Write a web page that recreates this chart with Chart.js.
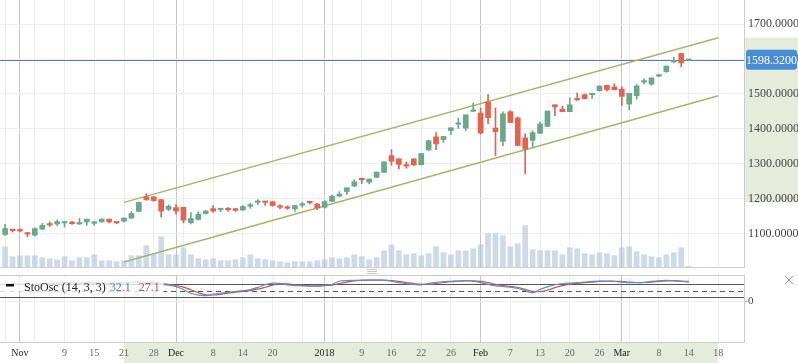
<!DOCTYPE html>
<html>
<head>
<meta charset="utf-8">
<script src="https://cdn.jsdelivr.net/npm/chart.js@4/dist/chart.umd.min.js"></script>
<style>
  html, body { margin: 0; padding: 0; background: #fff; }
  #marco { position: relative; width: 798px; height: 363px; overflow: hidden; }
  #precio { position: absolute; left: 0; top: 0; }
  #osc { position: absolute; left: 0; top: 275px; }
</style>
</head>
<body>
<div id="marco">
  <canvas id="precio" width="798" height="275"></canvas>
  <canvas id="osc" width="798" height="88"></canvas>
</div>
<script>
// sesiones (MM-DD), la primera vela va dos sesiones antes del 1 de nov
const fechas = ['10-30','10-31',
  '11-01','11-02','11-03','11-06','11-07','11-08','11-09','11-10','11-13','11-14','11-15','11-16','11-17','11-20','11-21','11-22','11-24','11-27','11-28','11-29','11-30',
  '12-01','12-04','12-05','12-06','12-07','12-08','12-11','12-12','12-13','12-14','12-15','12-18','12-19','12-20','12-21','12-22','12-26','12-27','12-28','12-29',
  '01-02','01-03','01-04','01-05','01-08','01-09','01-10','01-11','01-12','01-16','01-17','01-18','01-19','01-22','01-23','01-24','01-25','01-26','01-29','01-30','01-31',
  '02-01','02-02','02-05','02-06','02-07','02-08','02-09','02-12','02-13','02-14','02-15','02-16','02-20','02-21','02-22','02-23','02-26','02-27','02-28',
  '03-01','03-02','03-05','03-06','03-07','03-08','03-09','03-12','03-13','03-14'];
const primerIndice = -2;

const apertura = [1097,1111,1110,1101,1095,1112,1128,1127,1130,1131,
  1127,1133,1129,1133,1141,1133,1135,1144,1163,1205,
  1205,1197,1169,1174,1175,1131,1140,1157,1171,1168,
  1170,1171,1167,1178,1189,1192,1191,1179,1175,1171,
  1181,1191,1184,1175,1192,1207,1220,1236,1257,1247,
  1261,1275,1323,1314,1296,1314,1297,1340,1377,1369,
  1395,1413,1402,1450,1445,1477,1402,1364,1449,1431,
  1374,1367,1387,1407,1469,1456,1449,1485,1498,1498,
  1509,1525,1520,1514,1471,1495,1534,1528,1551,1564,
  1592,1616,1596];
const maximo = [1126,1112,1113,1103,1116,1129,1133,1139,1131,1135,
  1143,1141,1134,1142,1141,1134,1145,1163,1190,1214,
  1206,1197,1182,1183,1175,1160,1162,1166,1180,1171,
  1174,1172,1180,1187,1197,1192,1192,1183,1179,1180,
  1189,1191,1186,1194,1210,1220,1231,1254,1257,1256,
  1276,1306,1340,1314,1305,1314,1329,1366,1389,1378,
  1403,1431,1440,1474,1459,1498,1460,1449,1452,1434,
  1386,1394,1420,1451,1469,1465,1489,1503,1500,1500,
  1523,1525,1529,1521,1502,1527,1543,1546,1557,1580,
  1605,1616,1599];
const minimo = [1094,1104,1104,1090,1092,1111,1120,1122,1118,1126,
  1126,1124,1123,1132,1130,1128,1133,1143,1162,1195,
  1192,1147,1165,1155,1130,1127,1138,1155,1160,1162,
  1163,1163,1166,1172,1182,1180,1178,1170,1169,1163,
  1175,1184,1168,1172,1191,1206,1212,1234,1243,1242,
  1260,1274,1295,1285,1287,1294,1296,1337,1340,1361,
  1384,1401,1395,1450,1385,1414,1323,1352,1418,1352,
  1271,1347,1386,1406,1438,1449,1449,1481,1486,1487,
  1508,1508,1512,1467,1454,1485,1529,1525,1549,1562,
  1589,1578,1595];
const cierre = [1114,1108,1107,1098,1114,1123,1124,1134,1131,1128,
  1131,1141,1131,1141,1133,1130,1144,1157,1189,1197,
  1194,1164,1178,1164,1138,1143,1155,1164,1164,1170,
  1168,1166,1177,1181,1191,1189,1180,1175,1172,1180,
  1184,1188,1173,1191,1207,1213,1231,1248,1254,1256,
  1276,1305,1307,1298,1293,1297,1329,1366,1357,1378,
  1403,1417,1440,1453,1388,1432,1392,1443,1418,1352,
  1342,1389,1414,1451,1463,1449,1469,1483,1486,1500,
  1523,1512,1512,1493,1502,1523,1536,1546,1552,1580,
  1596,1589,1598.32];
const volumen = [20.3,10.3,11.3,11.3,11.3,9.3,8.3,7.3,10.3,6.3,
  9.3,9.3,12.3,6.3,6.3,5.3,6.3,11.3,11.3,21.3,
  13.3,30.3,12.3,12.3,19.3,12.3,8.3,7.3,8.3,6.3,
  6.3,7.3,9.3,12.3,8.3,7.3,6.3,5.3,4.3,5.3,
  5.3,5.3,6.3,7.3,9.3,8.3,9.3,12.3,10.3,7.3,
  9.3,16.3,22.3,16.3,12.3,13.3,11.3,13.3,20.3,14.3,
  12.3,16.3,16.3,18.3,22.3,33.3,33.3,31.3,20.3,23.3,
  41.3,17.3,16.3,16.3,16.3,12.3,19.3,18.3,13.3,12.3,
  14.3,13.3,11.3,19.3,20.3,15.3,12.3,10.3,9.3,12.3,
  14.3,19.3,0.7];

// estocastico (%K azul, %D rojo)
const stoK = [84,82,80,78,80,84,86,88,87,85,
  86,88,86,84,85,87,89,90,92,88,
  84,80,76,69,55,37,28,26,33,38,
  42,46,50,55,65,78,86,84,77,74,
  73,72,73,76,80,95,98,99,100,100,
  100,99,95,88,84,80,78,85,90,93,
  95,97,98,96,88,80,73,70,66,60,
  50,40,56,68,78,83,86,88,91,94,
  96,96,94,91,88,88,90,94,97,99,
  97,94,91];
const stoD = [82,83,82,80,79,80,83,86,87,87,
  86,86,87,86,85,85,87,89,90,90,
  88,84,80,75,67,54,40,30,29,32,
  38,42,46,50,57,66,76,83,82,78,
  75,73,72,74,76,84,91,97,99,100,
  100,100,98,94,89,84,81,81,84,89,
  93,95,97,97,94,88,80,74,70,65,
  56,46,45,52,64,74,81,85,88,91,
  94,95,95,94,91,89,89,91,94,97,
  98,96,94];
const leyendaOsc = ['StoOsc (14, 3, 3)', '32.1', '27.1'];
const nivelesOsc = [80, 50, 20];

// canal dibujado: [sesion, precio]
const canalSup = [[14, 1189], [94, 1661]];
const canalInf = [[14, 1018], [94, 1495]];

// ejes
const ticksPos = [-2, 0, 2, 6, 10, 14, 18, 21, 22, 26, 30, 34, 38, 41, 42, 46, 50, 54, 58, 62, 66, 70, 74, 78, 81, 82, 86, 90, 94];
const ticksTexto = ['', 'Nov', '', '9', '15', '21', '28', 'Dec', '', '8', '14', '20', '', '2018', '', '9', '16', '22', '26', 'Feb', '7', '13', '20', '26', 'Mar', '', '8', '14', '18'];
const ticksMes = [0, 21, 41, 62, 81];
const preciosY = [1100, 1200, 1300, 1400, 1500, 1600, 1700];

const fuente = "'Liberation Serif', 'Times New Roman', serif";
Chart.defaults.font.family = fuente;

const xs = cierre.map((_, i) => i + primerIndice);
const colorVela = cierre.map((c, i) => c >= apertura[i] ? '#67a98a' : '#e9604c');
const ultimo = cierre[cierre.length - 1];

const ejeX = (conTexto) => ({
  type: 'linear',
  offset: false,
  min: -2.69,
  max: 97.45,
  afterBuildTicks: s => { s.ticks = ticksPos.map(v => ({ value: v })); },
  afterFit: s => { s.height = conTexto ? 21 : 0; s.paddingLeft = 0; s.paddingRight = 0; },
  grid: {
    offset: false,
    color: c => (c.tick && ticksMes.includes(c.tick.value)) ? '#c6c6c6' : '#ededed',
    drawTicks: false
  },
  border: { color: '#cccccc' },
  ticks: {
    display: conTexto,
    autoSkip: false,
    maxRotation: 0,
    padding: 5,
    callback: (v, i) => ticksTexto[i],
    color: c => (c.tick && ticksMes.includes(c.tick.value)) ? '#222' : '#666',
    font: { size: 10 }
  }
});

const decoracionPrecio = {
  id: 'decoracionPrecio',
  beforeDraw(chart) {
    const { ctx, chartArea, scales: { y } } = chart;
    const arriba = y.getPixelForValue(canalSup[1][1]);
    const abajo = y.getPixelForValue(canalSup[0][1]);
    ctx.save();
    ctx.fillStyle = '#e6ecdc';
    ctx.fillRect(chartArea.right + 1, arriba, chart.width - chartArea.right - 1, abajo - arriba);
    ctx.restore();
  },
  beforeDatasetsDraw(chart) {
    const { ctx, chartArea, scales: { y } } = chart;
    const py = Math.round(y.getPixelForValue(ultimo)) + 0.5;
    ctx.save();
    ctx.strokeStyle = '#4f80bd';
    ctx.lineWidth = 1;
    ctx.beginPath();
    ctx.moveTo(chartArea.left, py);
    ctx.lineTo(chartArea.right, py);
    ctx.stroke();
    ctx.restore();
  },
  afterDraw(chart) {
    const { ctx, chartArea, scales: { y } } = chart;
    const py = y.getPixelForValue(ultimo);
    const x0 = chartArea.right + 2, x1 = chart.width - 1;
    ctx.save();
    // etiqueta del ultimo precio
    ctx.fillStyle = '#4a8bd6';
    ctx.beginPath();
    ctx.roundRect(x0, py - 10, x1 - x0, 20, 3);
    ctx.fill();
    ctx.fillStyle = '#fff';
    ctx.font = '12px ' + fuente;
    ctx.textAlign = 'center';
    ctx.textBaseline = 'middle';
    ctx.fillText(ultimo.toFixed(4), (x0 + x1) / 2, py + 1);
    // asa para redimensionar paneles
    const cx = (chartArea.left + chartArea.right) / 2;
    ctx.strokeStyle = '#c8c8c8';
    ctx.lineWidth = 1;
    [2.5, 4.5, 6.5].forEach(d => {
      ctx.beginPath();
      ctx.moveTo(cx - 5, chartArea.bottom + d);
      ctx.lineTo(cx + 5, chartArea.bottom + d);
      ctx.stroke();
    });
    ctx.restore();
  }
};

new Chart(document.getElementById('precio').getContext('2d'), {
  type: 'bar',
  data: {
    datasets: [
      {
        label: 'Volumen',
        yAxisID: 'yv',
        data: xs.map((x, i) => ({ x, y: volumen[i] })),
        backgroundColor: 'rgba(170, 194, 224, 0.6)',
        barThickness: 5,
        grouped: false,
        order: 10
      },
      {
        type: 'line',
        label: 'Canal sup',
        data: canalSup.map(([x, y]) => ({ x, y })),
        borderColor: '#a5b66a',
        borderWidth: 1.5,
        pointRadius: 0,
        order: 5
      },
      {
        type: 'line',
        label: 'Canal inf',
        data: canalInf.map(([x, y]) => ({ x, y })),
        borderColor: '#a5b66a',
        borderWidth: 1.5,
        pointRadius: 0,
        order: 5
      },
      {
        label: 'Mechas',
        data: xs.map((x, i) => ({ x, y: [minimo[i], maximo[i]] })),
        backgroundColor: colorVela,
        barThickness: 1,
        grouped: false,
        order: 2
      },
      {
        label: 'Cuerpos',
        data: xs.map((x, i) => ({ x, y: [apertura[i], cierre[i]] })),
        backgroundColor: colorVela,
        barThickness: 5,
        minBarLength: 1.5,
        grouped: false,
        order: 1
      }
    ]
  },
  options: {
    responsive: false,
    animation: false,
    devicePixelRatio: 1,
    layout: { padding: { left: 0, right: 0, top: 0, bottom: 8 } },
    plugins: { legend: { display: false }, tooltip: { enabled: false } },
    scales: {
      x: ejeX(false),
      y: {
        position: 'right',
        min: 1003.7,
        max: 1769.4,
        afterBuildTicks: s => { s.ticks = preciosY.map(v => ({ value: v })); },
        afterFit: s => { s.width = 54; s.paddingTop = 0; s.paddingBottom = 0; },
        grid: { color: '#ededed', drawTicks: false },
        border: { color: '#cccccc' },
        ticks: {
          padding: 4,
          color: '#444',
          font: { size: 12 },
          callback: v => Number(v).toFixed(4)
        }
      },
      yv: { display: false, min: 0, max: 267 }
    }
  },
  plugins: [decoracionPrecio]
});

const decoracionOsc = {
  id: 'decoracionOsc',
  beforeDraw(chart) {
    const { ctx, chartArea, scales: { x } } = chart;
    const a = x.getPixelForValue(canalSup[0][0]);
    const b = x.getPixelForValue(canalSup[1][0]);
    ctx.save();
    ctx.fillStyle = '#e6ecdc';
    ctx.fillRect(a, chartArea.bottom + 1, b - a, chart.height - chartArea.bottom - 1);
    ctx.restore();
  },
  beforeDatasetsDraw(chart) {
    const { ctx, chartArea, scales: { y } } = chart;
    ctx.save();
    ctx.strokeStyle = '#cccccc';
    ctx.lineWidth = 1;
    ctx.beginPath();
    ctx.moveTo(chartArea.left, chartArea.top + 0.5);
    ctx.lineTo(chartArea.right, chartArea.top + 0.5);
    ctx.stroke();
    ctx.strokeStyle = '#555';
    nivelesOsc.forEach(n => {
      const py = Math.round(y.getPixelForValue(n)) + 0.5;
      ctx.setLineDash(n === 50 ? [5, 4] : []);
      ctx.beginPath();
      ctx.moveTo(chartArea.left, py);
      ctx.lineTo(chartArea.right, py);
      ctx.stroke();
    });
    ctx.restore();
  },
  afterDatasetsDraw(chart) {
    const { ctx } = chart;
    ctx.save();
    ctx.font = '12px ' + fuente;
    const base = 15.5;
    const x0 = 24;
    const w0 = ctx.measureText(leyendaOsc[0]).width;
    const x1 = x0 + w0 + 4;
    const w1 = ctx.measureText(leyendaOsc[1]).width;
    const x2 = x1 + w1 + 8;
    const w2 = ctx.measureText(leyendaOsc[2]).width;
    ctx.fillStyle = 'rgba(255, 255, 255, 0.78)';
    ctx.fillRect(0, 2, x2 + w2 + 4, 15);
    ctx.fillStyle = '#111';
    ctx.fillRect(6, 9, 8, 2.5);
    ctx.textBaseline = 'alphabetic';
    ctx.fillStyle = '#222';
    ctx.fillText(leyendaOsc[0], x0, base);
    ctx.fillStyle = '#4f81bd';
    ctx.fillText(leyendaOsc[1], x1, base);
    ctx.fillStyle = '#c0504d';
    ctx.fillText(leyendaOsc[2], x2, base);
    // boton cerrar
    ctx.strokeStyle = '#999';
    ctx.lineWidth = 1;
    ctx.beginPath();
    ctx.moveTo(785, 1); ctx.lineTo(793, 9);
    ctx.moveTo(793, 1); ctx.lineTo(785, 9);
    ctx.stroke();
    ctx.restore();
  }
};

new Chart(document.getElementById('osc').getContext('2d'), {
  type: 'line',
  data: {
    datasets: [
      {
        label: '%K',
        data: xs.map((x, i) => ({ x, y: stoK[i] })),
        borderColor: '#5b8fd0',
        borderWidth: 1.2,
        pointRadius: 0,
        tension: 0.4
      },
      {
        label: '%D',
        data: xs.map((x, i) => ({ x, y: stoD[i] })),
        borderColor: '#c9534e',
        borderWidth: 1.2,
        pointRadius: 0,
        tension: 0.4
      }
    ]
  },
  options: {
    responsive: false,
    animation: false,
    devicePixelRatio: 1,
    layout: { padding: 0 },
    plugins: { legend: { display: false }, tooltip: { enabled: false } },
    scales: {
      x: ejeX(true),
      y: {
        position: 'right',
        min: -197,
        max: 125,
        afterBuildTicks: s => { s.ticks = [{ value: 0 }]; },
        afterFit: s => { s.width = 54; s.paddingTop = 0; s.paddingBottom = 0; },
        grid: { color: '#ededed', tickColor: '#999', tickLength: 3 },
        border: { color: '#cccccc' },
        ticks: { padding: 1, color: '#444', font: { size: 11 } }
      }
    }
  },
  plugins: [decoracionOsc]
});
</script>
</body>
</html>
